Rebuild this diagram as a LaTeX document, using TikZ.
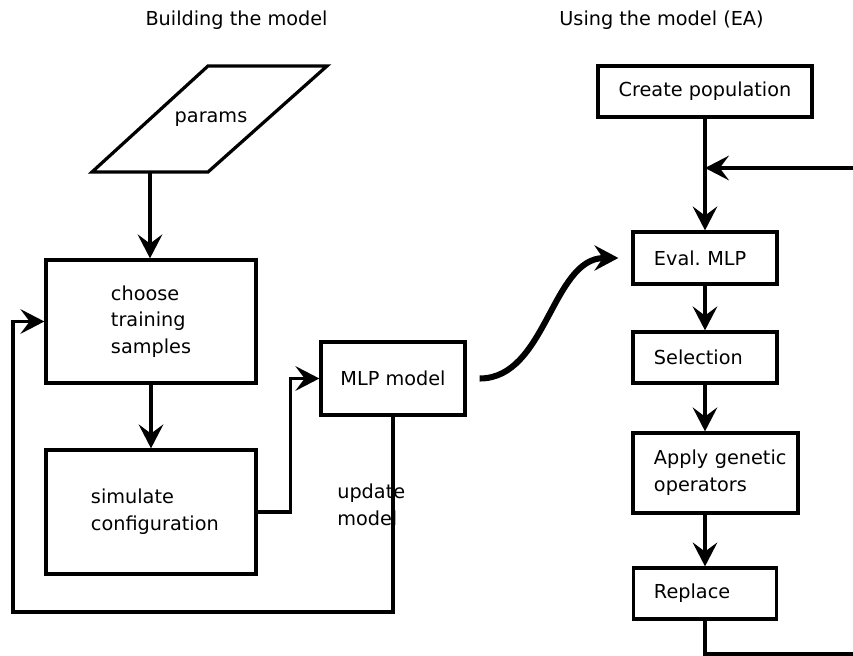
\documentclass[tikz,border=0pt]{standalone}
\usepackage{fontspec}
\setmainfont{DejaVu Sans}
\usetikzlibrary{arrows.meta}
\hyphenpenalty=10000
\hbadness=10000
\hfuzz=50pt

\tikzstyle{stepbox} = [
    rectangle,
    draw=black,
    line width=2.3pt,
    inner sep=0pt,
    align=left
]
\tikzstyle{link} = [line width=2.3pt]
\tikzstyle{flow} = [
    line width=2.3pt,
    -{Stealth[length=17pt,width=17.5pt,inset=6.5pt]}
]
\tikzstyle{bigflow} = [
    line width=4.3pt,
    -{Stealth[length=17pt,width=18pt,inset=6pt]}
]
\tikzstyle{heading} = [anchor=base]

\begin{document}
\begin{tikzpicture}[x=0.025cm, y=-0.025cm, font=\fontsize{13.7}{19}\selectfont]
    \useasboundingbox (0,0) rectangle (853,656);

    % Column headings
    \node[heading] (buildhead) at (236.5,26) {Building the model};
    \node[heading] (usehead) at (661.5,26) {Using the model (EA)};

    % Building the model
    \node (params) at (211,119) {params};
    \draw[link] (208,66) -- (327,66) -- (208,172) -- (92,172) -- cycle;
    \coordinate (paramsfoot) at (150,172);

    \node[stepbox, minimum width=5.25cm, minimum height=3.075cm, text width=2cm]
        (choose) at (151,321.5) {choose\\training\\samples};
    \node[stepbox, minimum width=5.25cm, minimum height=3.1cm, text width=3cm]
        (sim) at (151,512) {simulate\\configuration};
    \node[stepbox, minimum width=3.6cm, minimum height=1.825cm, align=center]
        (mlp) at (393,378.5) {MLP model};
    \node[anchor=west, align=left, inner sep=0pt] (update) at (337,505) {update\\model};
    \coordinate (loopL) at (13,612);

    \draw[flow] (paramsfoot) -- (paramsfoot |- choose.north);
    \draw[flow] (choose) -- (sim);
    \draw[flow] (sim.east) -- ++(33,0) |- (mlp.west);
    \draw[flow] (mlp.south) |- (loopL) |- (choose.west);

    % Using the model (EA)
    \node[stepbox, minimum width=5.35cm, minimum height=1.275cm, align=center]
        (create) at (705,91.5) {Create population};
    \node[stepbox, minimum width=3.6cm, minimum height=1.3cm, text width=2.55cm]
        (eval) at (705,258) {Eval.\ MLP};
    \node[stepbox, minimum width=3.6cm, minimum height=1.275cm, text width=2.55cm]
        (select) at (705,357.5) {Selection};
    \node[stepbox, minimum width=4.125cm, minimum height=2cm, text width=3.075cm]
        (apply) at (715.5,473) {Apply~genetic\\operators};
    \node[stepbox, minimum width=3.575cm, minimum height=1.275cm, text width=2.55cm]
        (replace) at (705,593.5) {Replace};
    \coordinate (joinR) at (853,168);
    \coordinate (cornerR) at (853,654);

    \draw[flow] (create) -- (eval);
    \draw[flow] (eval) -- (select);
    \draw[flow] (select.south) -- (select.south |- apply.north);
    \draw[flow] (select.south |- apply.south) -- (replace.north);
    \draw[link] (replace.south) |- (cornerR);
    \draw[flow] (joinR) -- (joinR -| eval.north);

    % model handed over to the EA
    \draw[bigflow, shorten <=0.325cm, shorten >=0.325cm]
        (mlp.east) to[out=0, in=180] (eval.west);
\end{tikzpicture}
\end{document}
